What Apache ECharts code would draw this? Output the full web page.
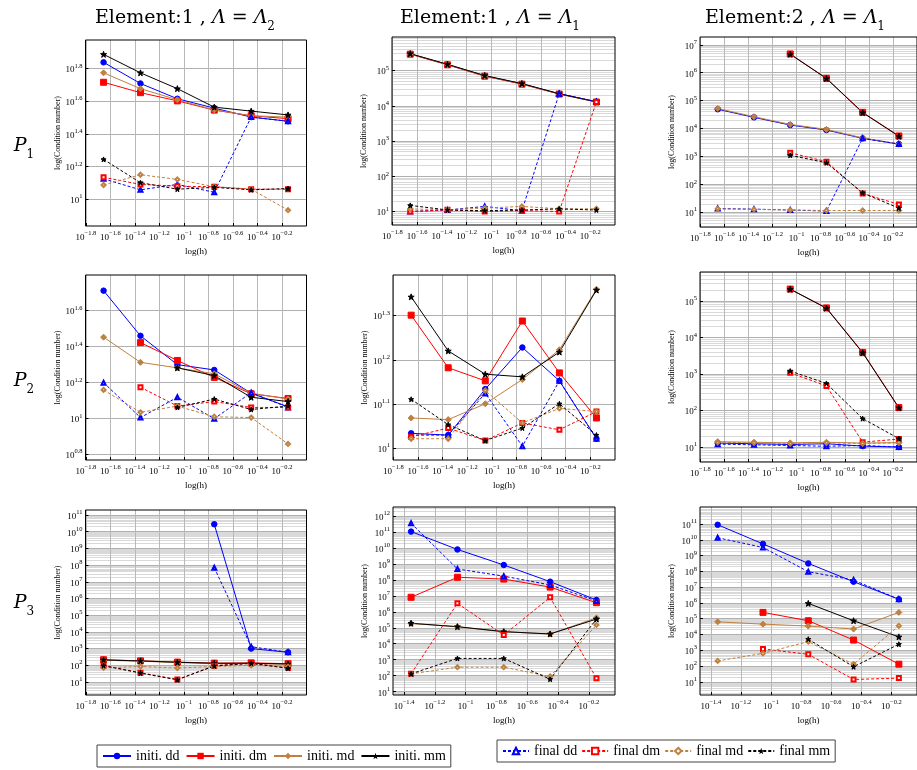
<!DOCTYPE html>
<html><head><meta charset="utf-8">
<script src="https://cdn.jsdelivr.net/npm/echarts@6/dist/echarts.min.js"></script>
<style>html,body{margin:0;padding:0;background:#fff}#c{width:917px;height:770px}</style>
</head><body><div id="c"></div>
<script>
// ---------- data ----------
const H6 = [0.0221, 0.0442, 0.0884, 0.1768, 0.3536, 0.7071];
const H5 = [0.0442, 0.0884, 0.1768, 0.3536, 0.7071];

const seriesNames = ['initi. dd', 'initi. dm', 'initi. md', 'initi. mm', 'final dd', 'final dm', 'final md', 'final mm'];
const columnTitles = [['1', '2'], ['1', '1'], ['2', '1']];
const rowLabels = ['1', '2', '3'];

// tick label exponents
const xTicks6 = [-1.8, -1.6, -1.4, -1.2, -1, -0.8, -0.6, -0.4, -0.2];
const xTicks5 = [-1.4, -1.2, -1, -0.8, -0.6, -0.4, -0.2];
const yTicksP1a = [1, 1.2, 1.4, 1.6, 1.8];
const yTicksP1b = [1, 2, 3, 4, 5];
const yTicksP1c = [1, 2, 3, 4, 5, 6, 7];
const yTicksP2a = [0.8, 1, 1.2, 1.4, 1.6];
const yTicksP2b = [1, 1.1, 1.2, 1.3];
const yTicksP2c = [1, 2, 3, 4, 5];
const yTicksP3a = [1, 2, 3, 4, 5, 6, 7, 8, 9, 10, 11];
const yTicksP3b = [1, 2, 3, 4, 5, 6, 7, 8, 9, 10, 11, 12];
const yTicksP3c = [1, 2, 3, 4, 5, 6, 7, 8, 9, 10, 11];

// P1, Element:1, Lambda_2
const P1a_iniDD = [68.9, 51.1, 41.2, 36.1, 31.8, 30.0];
const P1a_iniDM = [52.0, 44.9, 40.0, 35.1, 32.4, 31.1];
const P1a_iniMD = [59.4, 47.5, 40.6, 35.2, 32.4, 31.8];
const P1a_iniMM = [77.1, 59.4, 47.5, 36.6, 34.6, 32.8];
const P1a_finDD = [13.3, 11.4, 12.3, 11.0, 31.8, 30.0];
const P1a_finDM = [13.6, 12.3, 12.0, 11.9, 11.5, 11.5];
const P1a_finMD = [12.2, 14.1, 13.2, 11.9, 11.5, 8.55];
const P1a_finMM = [17.5, 12.6, 11.5, 11.8, 11.4, 11.6];
// P1, Element:1, Lambda_1
const P1b_iniDD = [297000, 148000, 70800, 42000, 21900, 13000];
const P1b_iniDM = [290000, 145000, 69000, 41000, 21500, 12800];
const P1b_iniMD = [295000, 147000, 70000, 41500, 21700, 12900];
const P1b_iniMM = [300000, 150000, 72000, 42500, 22000, 13000];
const P1b_finDD = [10.1, 11.1, 14.0, 10.6, 21900, 13000];
const P1b_finDM = [10.0, 11.2, 10.0, 10.7, 10.0, 12800];
const P1b_finMD = [11.9, 11.3, 12.6, 14.0, 12.0, 12.0];
const P1b_finMM = [15.0, 11.1, 10.6, 11.1, 11.9, 11.1];
// P1, Element:2, Lambda_1
const P1c_iniDD = [49000, 25100, 13300, 8830, 4440, 2770];
const P1c_iniDM = [null, null, 4700000, 630000, 38000, 5400];
const P1c_iniMD = [52000, 26500, 14000, 9300, 4600, 2800];
const P1c_iniMM = [null, null, 4600000, 620000, 37000, 5300];
const P1c_finDD = [13.5, 12.9, 12.0, 11.0, 4440, 2770];
const P1c_finDM = [null, null, 1350, 650, 47, 19];
const P1c_finMD = [13.2, 12.6, 12.0, 11.5, 11.5, 11.5];
const P1c_finMM = [null, null, 1100, 590, 49, 14];
// P2, Element:1, Lambda_2
const P2a_iniDD = [51.4, 28.8, 19.9, 18.6, 13.8, 11.6];
const P2a_iniDM = [null, 26.4, 21.0, 16.9, 13.7, 12.9];
const P2a_iniMD = [28.3, 20.5, 19.1, 17.7, 13.8, 12.8];
const P2a_iniMM = [null, null, 19.1, 17.3, 13.1, 12.4];
const P2a_finDD = [15.8, 10.1, 13.1, 9.95, 13.9, 11.5];
const P2a_finDM = [null, 14.9, 11.7, 12.4, 11.5, 11.5];
const P2a_finMD = [14.4, 10.8, 11.7, 10.2, 10.1, 7.2];
const P2a_finMM = [null, null, 11.5, 12.8, 11.2, 11.7];
// P2, Element:1, Lambda_1
const P2b_iniDD = [10.8, 10.7, 13.6, 16.9, 14.2, 10.5];
const P2b_iniDM = [20.0, 15.2, 14.2, 19.4, 14.8, 11.7];
const P2b_iniMD = [11.7, 11.6, 12.6, 14.3, 16.7, 22.9];
const P2b_iniMM = [22.0, 16.6, 14.7, 14.5, 16.5, 22.8];
const P2b_finDD = [10.7, 10.7, 13.3, 10.1, 14.2, 10.5];
const P2b_finDM = [10.6, 11.1, 10.4, 11.4, 11.0, 12.1];
const P2b_finMD = [10.5, 10.5, 13.5, 11.4, 12.3, 12.1];
const P2b_finMM = [12.9, 11.3, 10.4, 11.1, 12.6, 10.7];
// P2, Element:2, Lambda_1
const P2c_iniDD = [12.8, 12.3, 11.7, 12.3, 10.6, 10.0];
const P2c_iniDM = [null, null, 210000, 64000, 3900, 120];
const P2c_iniMD = [14.0, 13.5, 13.0, 13.5, 12.8, 13.2];
const P2c_iniMM = [null, null, 208000, 63000, 3800, 118];
const P2c_finDD = [12.0, 11.5, 11.0, 10.5, 11.0, 10.0];
const P2c_finDM = [null, null, 1070, 470, 13.6, 16.5];
const P2c_finMD = [13.5, 13.0, 12.5, 13.0, 12.5, 13.0];
const P2c_finMM = [null, null, 1200, 550, 60, 17];
// P3, Element:1, Lambda_2
const P3a_iniDD = [null, null, null, 2.8e10, 1000, 600];
const P3a_iniDM = [215, 185, 155, 135, 140, 125];
const P3a_iniMD = [200, 175, 145, 125, 125, 115];
const P3a_iniMM = [209, 182, 151, 132, 132, 120];
const P3a_finDD = [null, null, null, 7e7, 1300, 600];
const P3a_finDM = [98, 36, 14, 95, 135, 70];
const P3a_finMD = [70, 85, 68, 85, 100, 82];
const P3a_finMM = [95, 34, 13.5, 91, 130, 66];
// P3, Element:1, Lambda_1
const P3b_iniDD = [1.05e11, 8e9, 8.5e8, 7.7e7, 5.5e6];
const P3b_iniDM = [8.1e6, 1.45e8, 1.12e8, 3.5e7, 3.7e6];
const P3b_iniMD = [1.85e5, 1.15e5, 5.6e4, 4.0e4, 4.2e5];
const P3b_iniMM = [1.9e5, 1.17e5, 5.7e4, 4.1e4, 3.5e5];
const P3b_finDD = [3.5e11, 4.8e8, 1.7e8, 4.8e7, 4.8e6];
const P3b_finDM = [130, 3.4e6, 3.5e4, 8.1e6, 69];
const P3b_finMD = [130, 340, 340, 89, 1.5e5];
const P3b_finMM = [130, 1200, 1200, 60, 3.5e5];
// P3, Element:2, Lambda_1
const P3c_iniDD = [9e10, 5.5e9, 3.2e8, 2.2e7, 1.7e6];
const P3c_iniDM = [null, 2.5e5, 7.4e4, 4.4e3, 130];
const P3c_iniMD = [6.3e4, 4.5e4, 3.4e4, 2.2e4, 2.5e5];
const P3c_iniMM = [null, null, 9.3e5, 7.4e4, 7e3];
const P3c_finDD = [1.35e10, 3.3e9, 9.5e7, 2.8e7, 1.7e6];
const P3c_finDM = [null, 1200, 550, 14, 17];
const P3c_finMD = [210, 630, 3500, 130, 3.5e4];
const P3c_finMM = [null, null, 5000, 89, 2400];

// ---------- layout ----------
const FONT = 'Liberation Serif';
const TFONT = 'DejaVu Serif';
const panels = [
  {h: H6, d: [P1a_iniDD, P1a_iniDM, P1a_iniMD, P1a_iniMM, P1a_finDD, P1a_finDM, P1a_finMD, P1a_finMM], xt: xTicks6, yt: yTicksP1a, minor: false, xr: [-1.803, 0], yr: [0.835, 1.975], g: [85.5, 40, 221, 186]},
  {h: H6, d: [P1b_iniDD, P1b_iniDM, P1b_iniMD, P1b_iniMM, P1b_finDD, P1b_finDM, P1b_finMD, P1b_finMM], xt: xTicks6, yt: yTicksP1b, minor: true, xr: [-1.803, 0], yr: [0.62, 5.95], g: [392, 37, 223, 188]},
  {h: H6, d: [P1c_iniDD, P1c_iniDM, P1c_iniMD, P1c_iniMM, P1c_finDD, P1c_finDM, P1c_finMD, P1c_finMM], xt: xTicks6, yt: yTicksP1c, minor: true, xr: [-1.803, 0], yr: [0.47, 7.28], g: [700, 37, 224, 190]},
  {h: H6, d: [P2a_iniDD, P2a_iniDM, P2a_iniMD, P2a_iniMM, P2a_finDD, P2a_finDM, P2a_finMD, P2a_finMM], xt: xTicks6, yt: yTicksP2a, minor: false, xr: [-1.803, 0], yr: [0.768, 1.798], g: [85.5, 275, 221, 185]},
  {h: H6, d: [P2b_iniDD, P2b_iniDM, P2b_iniMD, P2b_iniMM, P2b_finDD, P2b_finDM, P2b_finMD, P2b_finMM], xt: xTicks6, yt: yTicksP2b, minor: false, xr: [-1.803, 0], yr: [0.973, 1.392], g: [393, 275, 222, 185]},
  {h: H6, d: [P2c_iniDD, P2c_iniDM, P2c_iniMD, P2c_iniMM, P2c_finDD, P2c_finDM, P2c_finMD, P2c_finMM], xt: xTicks6, yt: yTicksP2c, minor: true, xr: [-1.803, 0], yr: [0.59, 5.79], g: [700, 272, 224, 190]},
  {h: H6, d: [P3a_iniDD, P3a_iniDM, P3a_iniMD, P3a_iniMM, P3a_finDD, P3a_finDM, P3a_finMD, P3a_finMM], xt: xTicks6, yt: yTicksP3a, minor: true, xr: [-1.803, 0], yr: [0.22, 11.3], g: [85.5, 510, 221, 185]},
  {h: H5, d: [P3b_iniDD, P3b_iniDM, P3b_iniMD, P3b_iniMM, P3b_finDD, P3b_finDM, P3b_finMD, P3b_finMM], xt: xTicks5, yt: yTicksP3b, minor: true, xr: [-1.472, -0.03], yr: [0.79, 12.56], g: [393, 507, 222, 188]},
  {h: H5, d: [P3c_iniDD, P3c_iniDM, P3c_iniMD, P3c_iniMM, P3c_finDD, P3c_finDM, P3c_finMD, P3c_finMM], xt: xTicks5, yt: yTicksP3c, minor: true, xr: [-1.472, -0.03], yr: [0.16, 12.08], g: [700, 507, 224, 188]}
];

const STAR = 'path://M0,-10L2.4,-3.2L9.5,-3.1L3.8,1.3L5.9,8.1L0,4L-5.9,8.1L-3.8,1.3L-9.5,-3.1L-2.4,-3.2Z';
const styles = [
  {c: '#0000ff', s: 'circle', z: 5.5, t: 'solid'},
  {c: '#ff0000', s: 'rect', z: 6, t: 'solid'},
  {c: '#bf8040', s: 'diamond', z: 6, t: 'solid'},
  {c: '#000000', s: STAR, z: 6, t: 'solid'},
  {c: '#0000ff', s: 'emptyTriangle', z: 4, t: [3, 2]},
  {c: '#ff0000', s: 'emptyRect', z: 4, t: [3, 2]},
  {c: '#bf8040', s: 'emptyDiamond', z: 4, t: [3, 2]},
  {c: '#000000', s: STAR, z: 5, t: [3, 2]}
];

function pow10(e) { return Math.pow(10, e); }
function expLabel(v) {
  const e = Math.round(Math.log10(v) * 10) / 10;
  return '{b|10}{s|' + String(e).replace('-', '\u2212') + '}';
}
const labelRich = {
  b: {fontFamily: FONT, fontSize: 9, lineHeight: 12, verticalAlign: 'bottom', color: '#000'},
  s: {fontFamily: FONT, fontSize: 6.5, lineHeight: 8, verticalAlign: 'top', color: '#000'}
};
function minorValues(yr) {
  const out = [];
  for (let k = Math.floor(yr[0]); k <= Math.ceil(yr[1]); k++) {
    for (let m = 2; m <= 9; m++) {
      const v = m * Math.pow(10, k);
      if (Math.log10(v) > yr[0] && Math.log10(v) < yr[1]) out.push(v);
    }
  }
  return out;
}

const grids = [], xAxes = [], yAxes = [], series = [];
panels.forEach(function (P, p) {
  grids.push({left: P.g[0], top: P.g[1], width: P.g[2], height: P.g[3], show: true,
    borderColor: '#000', borderWidth: 1, backgroundColor: 'transparent', z: 5});
  const xv = P.xt.map(pow10);
  xAxes.push({
    type: 'log', logBase: 10, gridIndex: p, min: pow10(P.xr[0]), max: pow10(P.xr[1]),
    name: 'log(h)', nameLocation: 'middle', nameGap: 21,
    nameTextStyle: {fontFamily: FONT, fontSize: 9, color: '#000'},
    axisLine: {show: false},
    axisTick: {show: true, inside: true, length: 3, customValues: xv, lineStyle: {color: '#000'}},
    axisLabel: {customValues: xv, margin: 4, formatter: expLabel, rich: labelRich},
    splitLine: {show: true, lineStyle: {color: '#b8b8b8', width: 1}},
    minorTick: {show: false}, minorSplitLine: {show: false}
  });
  const yv = P.yt.map(pow10);
  const mainIdx = yAxes.length;
  if (P.minor) {
    const mv = minorValues(P.yr);
    yAxes.push({
      type: 'log', logBase: 10, gridIndex: p, min: pow10(P.yr[0]), max: pow10(P.yr[1]), position: 'right',
      axisLine: {show: false}, axisLabel: {show: false},
      axisTick: {show: false, customValues: mv},
      splitLine: {show: true, lineStyle: {color: '#d9d9d9', width: 1}}
    });
  }
  yAxes.push({
    type: 'log', logBase: 10, gridIndex: p, min: pow10(P.yr[0]), max: pow10(P.yr[1]), position: 'left',
    name: 'log(Condition number)', nameLocation: 'middle', nameGap: 24,
    nameTextStyle: {fontFamily: FONT, fontSize: 8, color: '#000'},
    axisLine: {show: false},
    axisTick: {show: true, inside: true, length: 3, customValues: yv, lineStyle: {color: '#000'}},
    axisLabel: {customValues: yv, margin: 3, formatter: expLabel, rich: labelRich},
    splitLine: {show: true, lineStyle: {color: '#b0b0b0', width: 1}},
    minorTick: {show: false}, minorSplitLine: {show: false}
  });
  const yIdx = P.minor ? mainIdx + 1 : mainIdx;
  P.d.forEach(function (arr, k) {
    const st = styles[k];
    const pts = P.h.map(function (h, i) { return [h, arr[i]]; }).filter(function (d) { return d[1] != null; });
    series.push({
      type: 'line', name: seriesNames[k], xAxisIndex: p, yAxisIndex: yIdx, data: pts,
      symbol: st.s, symbolSize: st.z, showSymbol: true, animation: false,
      lineStyle: {color: st.c, width: 1, type: st.t},
      itemStyle: {color: st.c, borderColor: st.c},
      emphasis: {disabled: true}
    });
  });
});

const titleRich = {
  t: {fontFamily: TFONT, fontSize: 19, lineHeight: 24, verticalAlign: 'top', fill: '#000'},
  i: {fontFamily: TFONT, fontSize: 19, fontStyle: 'italic', lineHeight: 24, verticalAlign: 'top', fill: '#000'},
  sub: {fontFamily: TFONT, fontSize: 12, lineHeight: 13, verticalAlign: 'bottom', fill: '#000'}
};
const colX = [185, 490, 795];
const rowY = [149, 384, 606];
const graphics = [];
columnTitles.forEach(function (ct, c) {
  graphics.push({type: 'text', x: colX[c], y: 21, z: 10, style: {
    text: '{t|Element:' + ct[0] + ' , }{i|\u039b}{t| = }{i|\u039b}{sub|' + ct[1] + '}',
    rich: titleRich, align: 'center', verticalAlign: 'middle', fill: '#000', font: '19px ' + TFONT}});
});
rowLabels.forEach(function (r, i) {
  graphics.push({type: 'text', x: 24, y: rowY[i], z: 10, style: {
    text: '{i|P}{sub|' + r + '}', rich: titleRich, align: 'center', verticalAlign: 'middle', fill: '#000', font: '19px ' + TFONT}});
});

const legendText = {fontFamily: FONT, fontSize: 14, color: '#000'};
const option = {
  backgroundColor: '#fff',
  animation: false,
  grid: grids, xAxis: xAxes, yAxis: yAxes, series: series,
  graphic: graphics,
  legend: [
    {data: seriesNames.slice(0, 4), left: 97, top: 745, orient: 'horizontal', itemWidth: 28, itemHeight: 8, itemGap: 6,
      padding: [4, 5], borderColor: '#444', borderWidth: 1, textStyle: legendText, selectedMode: false},
    {data: seriesNames.slice(4), left: 497, top: 740, orient: 'horizontal', itemWidth: 26, itemHeight: 8, itemGap: 4,
      padding: [4, 5], borderColor: '#444', borderWidth: 1, textStyle: legendText, selectedMode: false}
  ]
};
const chart = echarts.init(document.getElementById('c'));
chart.setOption(option);
</script>
</body></html>
